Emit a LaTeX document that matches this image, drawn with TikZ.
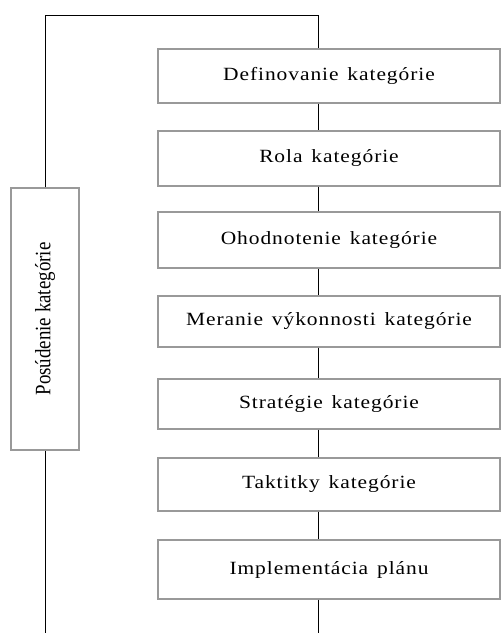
\documentclass[tikz,border=0pt]{standalone}
\usepackage{fontspec}
\setmainfont{Liberation Serif}
\newfontfamily\stepfont[FakeStretch=1.15,LetterSpace=5,WordSpace=1.4]{Liberation Serif}
\newfontfamily\sidefont[FakeStretch=0.86]{Liberation Serif}
\usetikzlibrary{calc}

\begin{document}
\begin{tikzpicture}[x=0.75pt, y=-0.75pt,
  stepbox/.style={draw=gray!80, line width=1pt, inner sep=0pt,
    minimum width=256.5pt, font=\fontsize{14}{16}\selectfont\stepfont},
  sidebox/.style={draw=gray!80, line width=1pt, inner sep=0pt,
    minimum width=51pt, minimum height=196.5pt,
    font=\fontsize{16.5}{18}\selectfont\sidefont},
  link/.style={black, line width=0.75pt}]

% ================================================================
% Canvas: 501 x 633 px, 1px = 0.75pt
% ================================================================
\useasboundingbox (0,0) rectangle (501,633);

% ================================================================
% Steps (right column), x: 158 -- 500
% ================================================================
\node[stepbox, minimum height=40.5pt]  (def)  at (329, 76)    {Definovanie kategórie};
\node[stepbox, minimum height=41.25pt] (rola) at (329, 158.5) {Rola kategórie};
\node[stepbox, minimum height=42pt]    (ohod) at (329, 240)   {Ohodnotenie kategórie};
\node[stepbox, minimum height=38.25pt] (mer)  at (329, 321.5) {Meranie výkonnosti kategórie};
\node[stepbox, minimum height=37.5pt]  (str)  at (329, 404)   {Stratégie kategórie};
\node[stepbox, minimum height=39.75pt] (takt) at (329, 484.5) {Taktitky kategórie};
\node[stepbox, minimum height=44.25pt] (impl) at (329, 569.5) {Implementácia plánu};

% ================================================================
% Assessment (left column)
% ================================================================
\node[sidebox] (pos) at (45, 319) {\rotatebox{90}{Posúdenie kategórie}};

% ================================================================
% Frame lines
% ================================================================
\coordinate (tl) at (45, 15);
\coordinate (tr) at (318, 15);
\coordinate (bl) at (45, 633);
\coordinate (br) at (318, 633);

\draw[link] (pos.north) -- (tl) -- (tr) -- (tr |- def.north);
\draw[link] (pos.south) -- (bl);

% chain between steps
\foreach \ua/\ub in {def/rola, rola/ohod, ohod/mer, mer/str, str/takt, takt/impl} {
  \draw[link] (tr |- \ua.south) -- (tr |- \ub.north);
}
\draw[link] (tr |- impl.south) -- (br);

\end{tikzpicture}
\end{document}
